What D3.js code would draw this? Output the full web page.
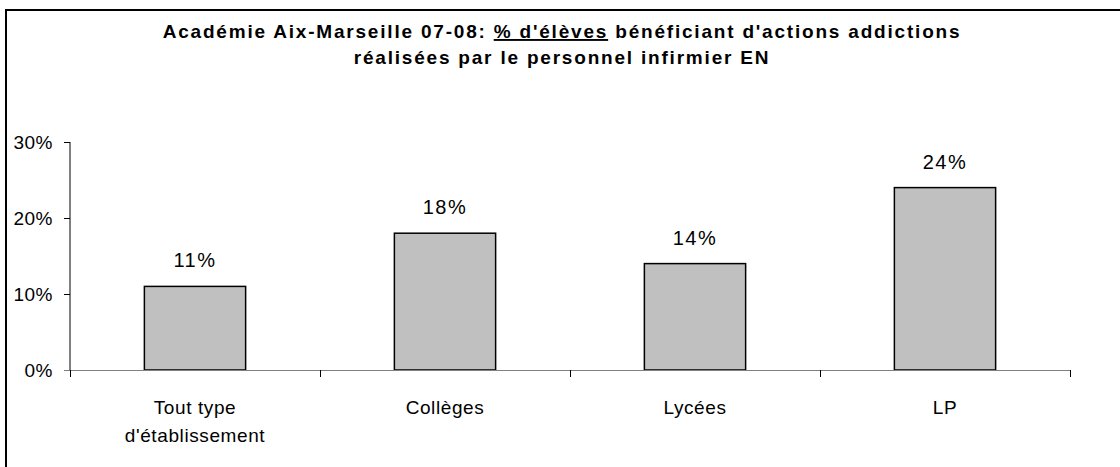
<!DOCTYPE html>
<html>
<head>
<meta charset="utf-8">
<script src="https://cdn.jsdelivr.net/npm/d3@7"></script>
<style>
    body { margin: 0; background: #fff; }
    text { font-family: Arial, "Liberation Sans", sans-serif; fill: #000; }
</style>
</head>
<body>
<div id="chart"></div>
<script>
// data
categories = [["Tout type", "d'établissement"], ["Collèges"], ["Lycées"], ["LP"]];
values = [0.11, 0.18, 0.14, 0.24];
yTicks = [0, 0.1, 0.2, 0.3];

let svg = d3.select('#chart')
    .append('svg')
    .attr('width', 1120)
    .attr('height', 467);

// outer frame (cut off on the right and bottom)
svg.append('path')
    .attr('d', 'M6,470 V10 H1125')
    .attr('fill', 'none')
    .attr('stroke', '#000')
    .attr('stroke-width', 2);

let keys = categories.map(c => c.join(' '));

let x = d3.scaleBand()
    .domain(keys)
    .range([70, 1070])
    .paddingInner(0.595)
    .paddingOuter(0.2975);

let y = d3.scaleLinear()
    .domain([0, 0.3])
    .range([370, 142]);

// Title
let title = svg.append('text')
    .attr('text-anchor', 'middle')
    .style('font-size', '19px')
    .style('font-weight', 'bold')
    .style('letter-spacing', '1.8px');
let l1 = title.append('tspan').attr('x', 562).attr('y', 38);
l1.append('tspan').text('Académie Aix-Marseille 07-08: ');
l1.append('tspan').style('text-decoration', 'underline').text('% d\'élèves');
l1.append('tspan').text(' bénéficiant  d\'actions addictions');
title.append('tspan').attr('x', 562).attr('y', 64).text('réalisées par le personnel infirmier EN');

// y axis
svg.append('line')
    .attr('x1', 70).attr('x2', 70)
    .attr('y1', y(0.3)).attr('y2', y(0))
    .attr('stroke', '#000');
svg.selectAll('.ytick')
    .data(yTicks)
    .enter().append('line')
    .attr('x1', 64).attr('x2', 70)
    .attr('y1', d => Math.round(y(d)) + 0.5)
    .attr('y2', d => Math.round(y(d)) + 0.5)
    .attr('stroke', '#000');
svg.selectAll('.ylab')
    .data(yTicks)
    .enter().append('text')
    .attr('x', 53)
    .attr('y', d => y(d) + 7)
    .attr('text-anchor', 'end')
    .style('font-size', '19px')
    .style('letter-spacing', '0.5px')
    .text(d => d3.format('.0%')(d));

// bars
svg.selectAll('.bar')
    .data(values)
    .enter().append('rect')
    .attr('x', (d, i) => x(keys[i]))
    .attr('width', x.bandwidth())
    .attr('y', d => y(d))
    .attr('height', d => y(0) - y(d))
    .attr('fill', '#c0c0c0')
    .attr('stroke', '#000')
    .attr('stroke-width', 1.5);

// x axis
svg.append('line')
    .attr('x1', 64).attr('x2', 1070)
    .attr('y1', 370.5).attr('y2', 370.5)
    .attr('stroke', '#808080');
let bounds = keys.map(k => x(k) - x.step() * x.paddingInner() / 2).concat([1070]);
svg.selectAll('.xtick')
    .data(bounds)
    .enter().append('line')
    .attr('x1', d => Math.round(d) + 0.5)
    .attr('x2', d => Math.round(d) + 0.5)
    .attr('y1', 370).attr('y2', 377)
    .attr('stroke', '#000');

// category labels
categories.forEach(function(c, i) {
    let t = svg.append('text')
        .attr('text-anchor', 'middle')
        .style('font-size', '19px')
        .style('letter-spacing', '0.6px');
    c.forEach(function(line, j) {
        t.append('tspan')
            .attr('x', x(keys[i]) + x.bandwidth() / 2)
            .attr('y', 414 + j * 28)
            .text(line);
    });
});

// value labels
svg.selectAll('.vlab')
    .data(values)
    .enter().append('text')
    .attr('x', (d, i) => x(keys[i]) + x.bandwidth() / 2)
    .attr('y', d => y(d) - 19)
    .attr('text-anchor', 'middle')
    .style('font-size', '20px')
    .style('letter-spacing', '1.5px')
    .text(d => d3.format('.0%')(d));
</script>
</body>
</html>
